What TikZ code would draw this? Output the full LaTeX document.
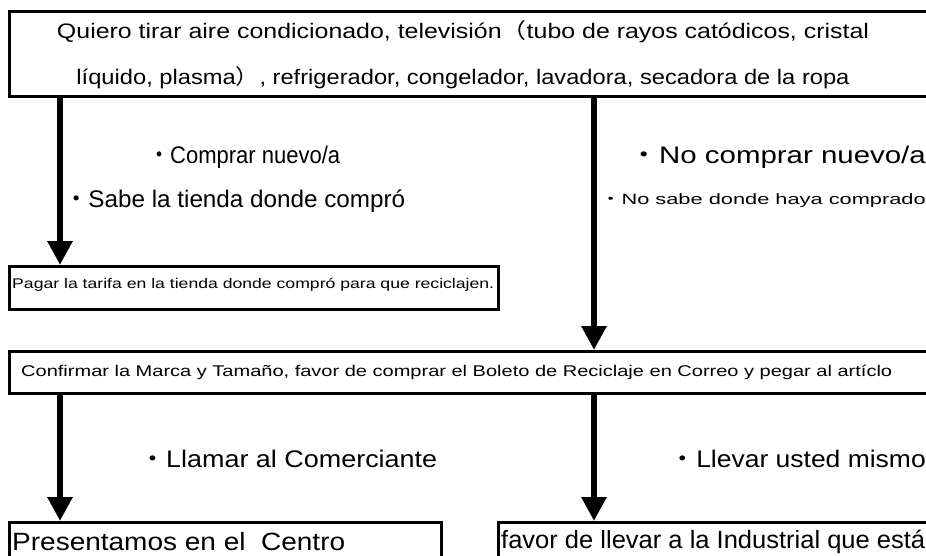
\documentclass[tikz,border=0pt]{standalone}
\usepackage{fontspec}
\usepackage{graphicx}
\setmainfont{Liberation Sans}
\newfontfamily\cjk{Noto Sans CJK JP}
\newfontfamily\cjkh[RawFeature=+hwid]{Noto Sans CJK JP}
\usetikzlibrary{arrows.meta}
\newcommand{\fitw}[2]{\resizebox{#1}{\height}{#2}}
\newcommand{\jdot}{{\cjkh ・}}
\begin{document}
\begin{tikzpicture}[x=1pt,y=-1pt,
  box/.style={draw, line width=3pt, inner sep=0pt, anchor=north west},
  thinbox/.style={box, line width=2.5pt},
  arr/.style={line width=6pt, -{Triangle[width=24pt,length=24pt]}},
  lab/.style={inner sep=0pt, font=\fontsize{24}{28}\selectfont},
  toptxt/.style={inner sep=0pt, font=\fontsize{21}{24}\selectfont},
  smalltxt/.style={inner sep=0pt, font=\fontsize{15}{18}\selectfont},
  bigtxt/.style={inner sep=0pt, font=\fontsize{25}{30}\selectfont},
]
\useasboundingbox (0,0) rectangle (926,556);
\clip (0,0) rectangle (926,556);
% boxes
\node[box, minimum width=960pt, minimum height=85pt] (top) at (8,10) {};
\node[thinbox, minimum width=489pt, minimum height=43pt] (pagar) at (8,265) {};
\node[box, minimum width=960pt, minimum height=42pt] (conf) at (8,350) {};
\node[thinbox, minimum width=432pt, minimum height=60pt] (bl) at (8,521) {};
\node[thinbox, minimum width=460pt, minimum height=60pt] (br) at (497,521) {};
% texts in boxes
\node[toptxt] (t1) at (463,32) {\fitw{812pt}{Quiero tirar aire condicionado, televisión{\cjk （}tubo de rayos catódicos, cristal}};
\node[toptxt] (t2) at (463,78) {\fitw{773pt}{líquido, plasma{\cjk ）}, refrigerador, congelador, lavadora, secadora de la ropa}};
\node[smalltxt, anchor=west, font=\fontsize{14}{17}\selectfont] (tp) at (12,285) {\fitw{482pt}{Pagar la tarifa en la tienda donde compró para que reciclajen.}};
\node[smalltxt, anchor=west, font=\fontsize{15.5}{18}\selectfont] (tc) at (21,372) {\fitw{871pt}{Confirmar la Marca y Tamaño, favor de comprar el Boleto de Reciclaje en Correo y pegar al artíclo}};
\node[bigtxt, anchor=west] (tbl) at (12,542) {\fitw{333pt}{Presentamos en el\ \ Centro}};
\node[bigtxt, anchor=west] (tbr) at (501,542) {\fitw{424pt}{favor de llevar a la Industrial que está}};
% labels
\node[lab, anchor=west] (l1) at (148,157) {\fitw{192pt}{\jdot Comprar nuevo/a}};
\node[lab, anchor=west] (l2) at (64,201) {\fitw{341pt}{\jdot Sabe la tienda donde compró}};
\node[lab, anchor=east] (r1) at (926,157) {\fitw{296pt}{\jdot No comprar nuevo/a}};
\node[smalltxt, anchor=east] (r2) at (926,201) {\fitw{326pt}{\jdot No sabe donde haya comprado}};
\node[lab, anchor=west] (l3) at (139,459) {\fitw{298pt}{\jdot Llamar al Comerciante}};
\node[lab, anchor=east] (r3) at (926,459) {\fitw{256pt}{\jdot Llevar usted mismo}};
% connectors
\coordinate (xL) at (60,0);
\coordinate (xR) at (594,0);
\draw[arr] (top.south -| xL) -- (pagar.north -| xL);
\draw[arr] (top.south -| xR) -- (conf.north -| xR);
\draw[arr] (conf.south -| xL) -- (bl.north -| xL);
\draw[arr] (conf.south -| xR) -- (br.north -| xR);
\end{tikzpicture}
\end{document}
